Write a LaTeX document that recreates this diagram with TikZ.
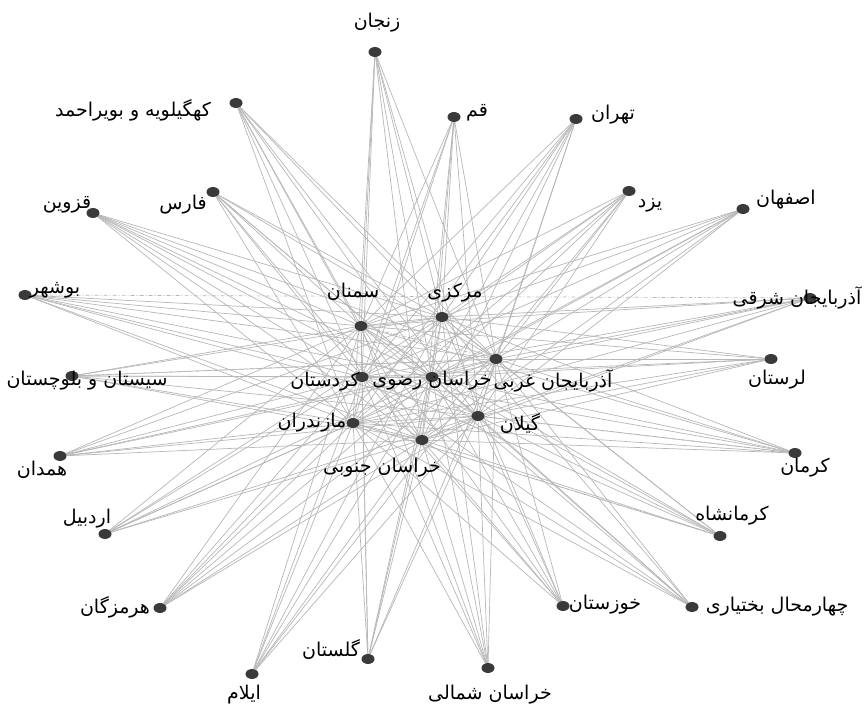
\documentclass[tikz,border=0pt]{standalone}
\usepackage{fontspec}
\newfontfamily\arabicfont[Script=Arabic]{DejaVu Sans}
\TeXXeTstate=1
\usetikzlibrary{shapes.geometric,backgrounds}
\definecolor{dotgray}{HTML}{3A3A3A}
\definecolor{edgegray}{HTML}{B8B8B8}
\tikzset{
  dotnode/.style={ellipse,fill=dotgray,minimum width=13pt,minimum height=10pt,inner sep=0pt},
  lbl/.style={font=\arabicfont\fontsize{19}{22}\selectfont,inner sep=0pt,text=black},
  edgeline/.style={draw=edgegray,line width=0.7pt},
  dashline/.style={draw=edgegray,line width=0.7pt,dash pattern=on 4pt off 2pt on 1pt off 2pt}
}
\newcommand{\rtl}[1]{\beginR #1\endR}
\begin{document}
\begin{tikzpicture}[x=1pt,y=-1pt]
\useasboundingbox (0,0) rectangle (865,711);
% outer nodes
\node[dotnode] (Z) at (375,52) {};
\node[dotnode] (K) at (236,103) {};
\node[dotnode] (Q) at (454,117) {};
\node[dotnode] (T) at (576,119) {};
\node[dotnode] (F) at (213,192) {};
\node[dotnode] (Y) at (629,191) {};
\node[dotnode] (I) at (743,209) {};
\node[dotnode] (Qz) at (93,213) {};
\node[dotnode] (B) at (25,295) {};
\node[dotnode] (AS) at (810,298) {};
\node[dotnode] (S) at (72,376) {};
\node[dotnode] (L) at (771,359) {};
\node[dotnode] (H) at (60,456) {};
\node[dotnode] (Km) at (795,453) {};
\node[dotnode] (A) at (105,534) {};
\node[dotnode] (Ksh) at (720,536) {};
\node[dotnode] (Hz) at (160,608) {};
\node[dotnode] (Ch) at (692,607) {};
\node[dotnode] (Kh) at (563,606) {};
\node[dotnode] (G) at (368,659) {};
\node[dotnode] (Il) at (252,674) {};
\node[dotnode] (KS) at (488,668) {};
% inner nodes
\node[dotnode] (Se) at (361,326) {};
\node[dotnode] (M) at (442,317) {};
\node[dotnode] (AG) at (496,359) {};
\node[dotnode] (KR) at (432,377) {};
\node[dotnode] (Ko) at (362,377) {};
\node[dotnode] (Ma) at (353,423) {};
\node[dotnode] (Gi) at (478,416) {};
\node[dotnode] (KJ) at (422,440) {};
% edges
\begin{pgfonlayer}{background}
\fill[white] (0,0) rectangle (865,711);
\foreach \o in {Z,K,Q,T,F,Y,I,Qz,B,AS,S,L,H,Km,A,Ksh,Hz,Ch,Kh,G,Il,KS}
  \foreach \i in {Se,M,AG,KR,Ko,Ma,Gi,KJ}
    \draw[edgeline] (\o) -- (\i);
\foreach \a/\b in {Se/Ko,Ko/Ma,M/KR,KR/KJ,Se/M,M/AG,AG/Gi,KR/Gi,Ma/KJ,KJ/Gi,Ko/KR,Se/KR,AG/KR,Ma/Gi}
    \draw[edgeline] (\a) -- (\b);
\foreach \a/\b in {B/AS,S/AG,Se/AG,Gi/Km,Ma/Ksh}
    \draw[dashline] (\a) -- (\b);
\end{pgfonlayer}
% labels
\node[lbl] (lZ) at (377,23) {\rtl{زنجان}};
\node[lbl] (lK) at (133,110) {\rtl{کهگیلویه و بویراحمد}};
\node[lbl] (lQ) at (477,113) {\rtl{قم}};
\node[lbl] (lT) at (613,115) {\rtl{تهران}};
\node[lbl] (lF) at (183,205) {\rtl{فارس}};
\node[lbl] (lY) at (650,205) {\rtl{یزد}};
\node[lbl] (lI) at (786,200) {\rtl{اصفهان}};
\node[lbl] (lQz) at (67,205) {\rtl{قزوین}};
\node[lbl] (lB) at (55,290) {\rtl{بوشهر}};
\node[lbl] (lAS) at (797,298) {\rtl{آذربایجان شرقی}};
\node[lbl] (lS) at (87,381) {\rtl{سیستان و بلوچستان}};
\node[lbl] (lL) at (777,380) {\rtl{لرستان}};
\node[lbl] (lH) at (42,470) {\rtl{همدان}};
\node[lbl] (lKm) at (805,468) {\rtl{کرمان}};
\node[lbl] (lA) at (87,519) {\rtl{اردبیل}};
\node[lbl] (lKsh) at (732,516) {\rtl{کرمانشاه}};
\node[lbl] (lHz) at (115,607) {\rtl{هرمزگان}};
\node[lbl] (lCh) at (777,607) {\rtl{چهارمحال بختیاری}};
\node[lbl] (lKh) at (605,605) {\rtl{خوزستان}};
\node[lbl] (lG) at (331,650) {\rtl{گلستان}};
\node[lbl] (lIl) at (244,695) {\rtl{ایلام}};
\node[lbl] (lKS) at (490,695) {\rtl{خراسان شمالی}};
\node[lbl] (lSe) at (353,292) {\rtl{سمنان}};
\node[lbl] (lM) at (455,293) {\rtl{مرکزی}};
\node[lbl] (lAG) at (553,381) {\rtl{آذربایجان غربی}};
\node[lbl] (lKR) at (432,381) {\rtl{خراسان رضوی}};
\node[lbl] (lKo) at (325,382) {\rtl{کردستان}};
\node[lbl] (lMa) at (312,423) {\rtl{مازندران}};
\node[lbl] (lGi) at (520,424) {\rtl{گیلان}};
\node[lbl] (lKJ) at (382,468) {\rtl{خراسان جنوبی}};
\end{tikzpicture}
\end{document}
